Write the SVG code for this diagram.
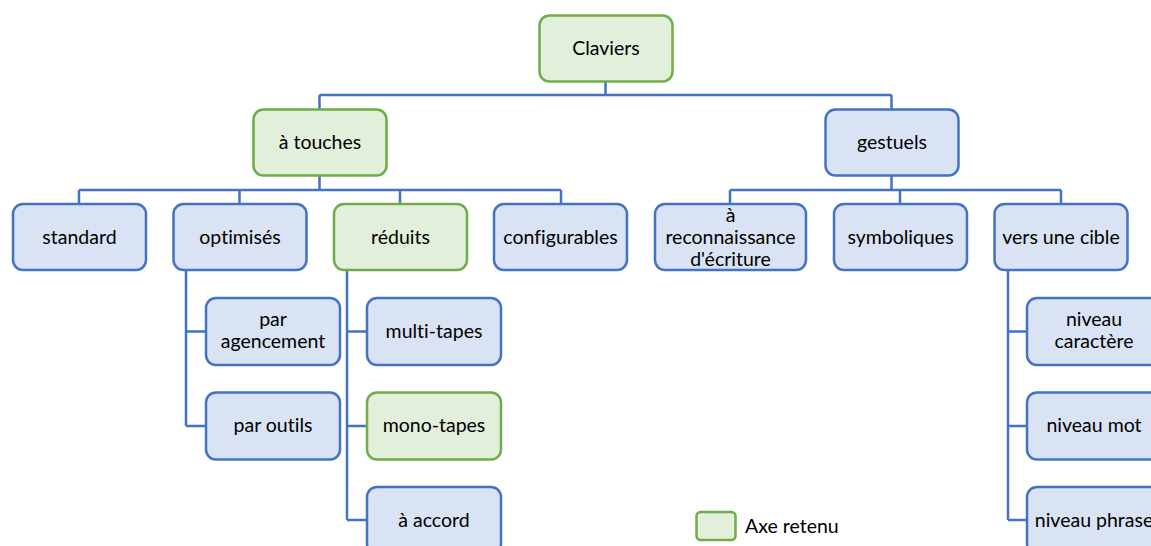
<svg xmlns="http://www.w3.org/2000/svg" width="1151" height="546" viewBox="0 0 1151 546">
<style>
.b rect{fill:#DAE3F3;stroke:#4472C4;stroke-width:2.5}
.g rect{fill:#E2EFDA;stroke:#70AD47;stroke-width:2.5}
text{font-family:Lato,"Open Sans","Liberation Sans",sans-serif;font-size:19.5px;fill:#000;text-anchor:middle;font-variant-ligatures:none}
.c{fill:none;stroke:#4472C4;stroke-width:2.5}
</style>
<rect width="1151" height="546" fill="#fff"/>
<g id="connectors" class="c">
<path d="M605.5 81V95M319.5 95H891.5M319.5 95V109M891.5 95V109"/>
<path d="M319.5 176V190M79 190H561M79 190V204M239.5 190V204M400 190V204M561 190V204"/>
<path d="M891.5 176V190M730 190H1061M730 190V204M900 190V204M1061 190V204"/>
<path d="M186 270V426M186 331.5H206M186 426H206"/>
<path d="M347 270V520M347 331.5H367M347 426H367M347 520H367"/>
<path d="M1008 270V520M1008 331.5H1027M1008 426H1027M1008 520H1027"/>
</g>
<g id="n-claviers" class="g"><rect x="539.5" y="15.5" width="133" height="66" rx="10"/><text x="606" y="55">Claviers</text></g>
<g id="n-touches" class="g"><rect x="253.5" y="109.5" width="133" height="66" rx="10"/><text x="320" y="149">à touches</text></g>
<g id="n-gestuels" class="b"><rect x="825.5" y="109.5" width="133" height="66" rx="10"/><text x="892" y="149">gestuels</text></g>
<g id="n-standard" class="b"><rect x="13" y="204" width="133" height="66" rx="10"/><text x="79.5" y="244">standard</text></g>
<g id="n-optimises" class="b"><rect x="173.5" y="204" width="133" height="66" rx="10"/><text x="240" y="244">optimisés</text></g>
<g id="n-reduits" class="g"><rect x="334" y="204" width="133" height="66" rx="10"/><text x="400.5" y="244">réduits</text></g>
<g id="n-configurables" class="b"><rect x="494" y="204" width="133" height="66" rx="10"/><text x="560.5" y="244">configurables</text></g>
<g id="n-reconnaissance" class="b"><rect x="655" y="204" width="151" height="66" rx="10"/><text x="730.5" y="222">à</text><text x="730.5" y="244">reconnaissance</text><text x="730.5" y="266">d'écriture</text></g>
<g id="n-symboliques" class="b"><rect x="834" y="204" width="133" height="66" rx="10"/><text x="900.5" y="244">symboliques</text></g>
<g id="n-cible" class="b"><rect x="994.5" y="204" width="133" height="66" rx="10"/><text x="1061" y="244">vers une cible</text></g>
<g id="n-agencement" class="b"><rect x="206" y="298" width="134" height="67" rx="10"/><text x="273" y="326">par</text><text x="273" y="348">agencement</text></g>
<g id="n-outils" class="b"><rect x="206" y="392.5" width="134" height="67" rx="10"/><text x="273" y="432">par outils</text></g>
<g id="n-multi" class="b"><rect x="367" y="298" width="134" height="67" rx="10"/><text x="434" y="338">multi-tapes</text></g>
<g id="n-mono" class="g"><rect x="367" y="392.5" width="134" height="67" rx="10"/><text x="434" y="432">mono-tapes</text></g>
<g id="n-accord" class="b"><rect x="367" y="487" width="134" height="67" rx="10"/><text x="434" y="527">à accord</text></g>
<g id="n-caractere" class="b"><rect x="1027" y="298" width="134" height="67" rx="10"/><text x="1094" y="326">niveau</text><text x="1094" y="348">caractère</text></g>
<g id="n-mot" class="b"><rect x="1027" y="392.5" width="134" height="67" rx="10"/><text x="1094" y="432">niveau mot</text></g>
<g id="n-phrase" class="b"><rect x="1027" y="487" width="134" height="67" rx="10"/><text x="1094" y="527">niveau phrase</text></g>
<g id="legend" class="g"><rect x="696.5" y="512" width="39" height="28" rx="4"/><text x="745" y="533" style="text-anchor:start">Axe retenu</text></g>
</svg>
